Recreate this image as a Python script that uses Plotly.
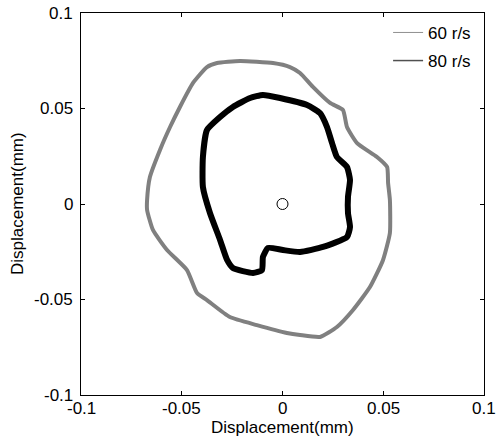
import plotly.graph_objects as go

# 60 r/s orbit (mm)
x60 = [-0.0325, -0.0211, -0.0047, 0.0037, 0.0087, 0.0151, 0.0236, 0.0300, 0.0320, 0.0370,
       0.0469, 0.0519, 0.0524, 0.0533, 0.0533, 0.0499, 0.0434, 0.0350, 0.0270, 0.0186,
       0.0087, 0.0022, -0.0127, -0.0261, -0.0375, -0.0424, -0.0474, -0.0573, -0.0643, -0.0672,
       -0.0672, -0.0658, -0.0608, -0.0558, -0.0509, -0.0444, -0.0375, -0.0325]
y60 = [0.0738, 0.0749, 0.0738, 0.0717, 0.0686, 0.0613, 0.0529, 0.0492, 0.0403, 0.0319,
       0.0246, 0.0194, 0.0110, 0.0021, -0.0152, -0.0293, -0.0435, -0.0555, -0.0644, -0.0696,
       -0.0686, -0.0675, -0.0634, -0.0592, -0.0503, -0.0466, -0.0346, -0.0241, -0.0136, -0.0031,
       0.0021, 0.0141, 0.0283, 0.0403, 0.0508, 0.0634, 0.0717, 0.0738]

# 80 r/s orbit (mm)
x80 = [-0.0097, -0.0012, 0.0122, 0.0186, 0.0221, 0.0246, 0.0270, 0.0320, 0.0335, 0.0325,
       0.0325, 0.0335, 0.0320, 0.0201, 0.0087, 0.0002, -0.0072, -0.0097, -0.0102, -0.0146,
       -0.0246, -0.0275, -0.0310, -0.0360, -0.0395, -0.0395, -0.0375, -0.0310, -0.0246, -0.0161,
       -0.0097]
y80 = [0.0571, 0.0555, 0.0518, 0.0476, 0.0403, 0.0319, 0.0246, 0.0194, 0.0126, 0.0037,
       -0.0047, -0.0120, -0.0173, -0.0225, -0.0251, -0.0241, -0.0230, -0.0277, -0.0346, -0.0361,
       -0.0335, -0.0293, -0.0188, -0.0047, 0.0089, 0.0246, 0.0387, 0.0455, 0.0508, 0.0555,
       0.0571]

center_x = [0.0]
center_y = [0.0]

tick_vals = [-0.1, -0.05, 0, 0.05, 0.1]
tick_text = ["-0.1", "-0.05", "0", "0.05", "0.1"]

names = ["60 r/s", "80 r/s"]
axis_title = "Displacement(mm)"

FONT = "Liberation Sans, Arial"
FS = 17
tfont = dict(family=FONT, size=FS, color="black")

W, H, L, R, T, B = 502, 445, 81, 18, 13, 50
pw, ph = W - L - R, H - T - B

fig = go.Figure()
fig.add_trace(go.Scatter(x=x60, y=y60, mode="lines", line=dict(color="#808080", width=4, shape="spline", smoothing=0.5),
                         showlegend=False, hoverinfo="skip"))
fig.add_trace(go.Scatter(x=x80, y=y80, mode="lines", line=dict(color="#000000", width=6, shape="spline", smoothing=0.5),
                         showlegend=False, hoverinfo="skip"))
fig.add_trace(go.Scatter(x=center_x, y=center_y, mode="markers",
                         marker=dict(symbol="circle-open", size=11, color="black", line=dict(width=1)),
                         showlegend=False))
# legend entries
fig.add_trace(go.Scatter(x=[None], y=[None], mode="lines", name=names[0], legendgroup="a",
                         line=dict(color="#909090", width=1)))
fig.add_trace(go.Scatter(x=[None], y=[None], mode="lines", name=names[1], legendgroup="b",
                         line=dict(color="#505050", width=1.5)))

axis_common = dict(range=[-0.1, 0.1], tickvals=tick_vals, ticks="inside", ticklen=4,
                   tickcolor="black", showline=True, linecolor="black", linewidth=1, mirror="allticks",
                   showgrid=False, zeroline=False, automargin=False, showticklabels=False)

annotations = []
# tick labels placed at the axis tick values
for v, t in zip(tick_vals, tick_text):
    annotations.append(dict(text=t, x=v, xref="x", y=(H - B - 408) / ph, yref="paper", showarrow=False,
                            xanchor="center", yanchor="middle", font=tfont))
    annotations.append(dict(text=t, y=v, yref="y", x=(75 - L) / pw, xref="paper", showarrow=False,
                            xanchor="right", yanchor="middle", font=tfont))
annotations.append(dict(text=axis_title, x=0.5, y=(H - B - 427) / ph, xref="paper", yref="paper", showarrow=False,
                        xanchor="center", yanchor="middle", font=tfont))
annotations.append(dict(text=axis_title, x=(17 - L) / pw, y=0.5, xref="paper", yref="paper", showarrow=False,
                        textangle=-90, xanchor="center", yanchor="middle", font=tfont))

fig.update_layout(
    width=W, height=H,
    margin=dict(l=L, r=R, t=T, b=B),
    plot_bgcolor="white", paper_bgcolor="white",
    xaxis=axis_common,
    yaxis=axis_common,
    legend=dict(x=0.762, y=0.995, xanchor="left", yanchor="top", bgcolor="rgba(0,0,0,0)",
                font=tfont, tracegroupgap=3),
    showlegend=True,
    annotations=annotations,
)

fig.write_html("out.html")
